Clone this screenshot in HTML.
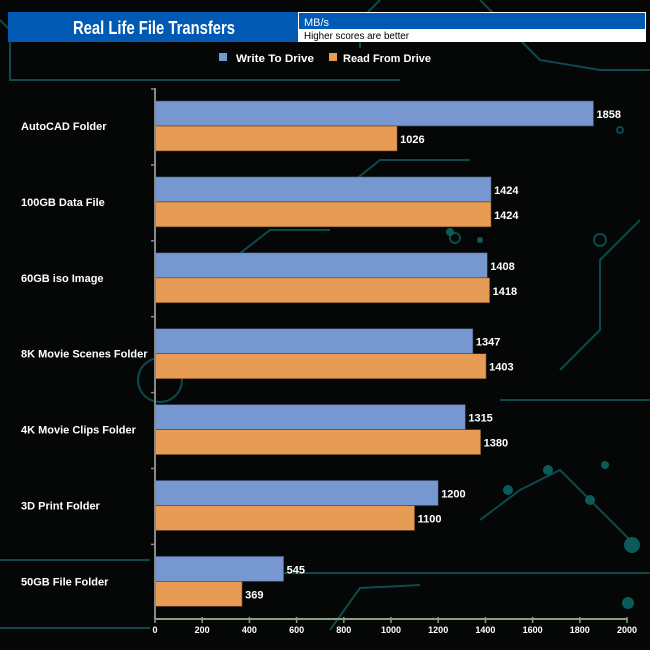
<!DOCTYPE html>
<html><head><meta charset="utf-8">
<style>
html,body{margin:0;padding:0;background:#050707;}
svg{display:block;font-family:"Liberation Sans",Arial,sans-serif;}
</style></head>
<body>
<svg id="chart" width="650" height="650" viewBox="0 0 650 650">
  <rect x="0" y="0" width="650" height="650" fill="#050707"/>
  <g stroke="#0d5253" stroke-width="2" fill="none" opacity="0.9">
    <path d="M0 20 L10 30 L10 80 L400 80"/>
    <path d="M380 0 L360 20 L360 48"/>
    <path d="M480 0 L520 40 L540 60 L600 70 L650 70"/>
    <path d="M640 220 L600 260 L600 330 L560 370"/>
    <path d="M330 200 L380 160 L470 160"/>
    <path d="M155 573 L650 573"/>
    <path d="M330 630 L360 588 L420 585"/>
    <path d="M480 520 L520 490 L560 470 L630 540"/>
    <path d="M500 400 L650 400"/>
    <path d="M180 300 L270 230 L330 230"/>
    <path d="M0 560 L150 560"/>
    <path d="M0 628 L150 628"/>
    <circle cx="600" cy="240" r="6"/>
    <circle cx="455" cy="238" r="5"/>
    <circle cx="160" cy="380" r="22"/>
    <circle cx="620" cy="130" r="3"/>
  </g>
  <g fill="#0d5a5a">
    <circle cx="632" cy="545" r="8"/><circle cx="628" cy="603" r="6"/>
    <circle cx="508" cy="490" r="5"/><circle cx="548" cy="470" r="5"/>
    <circle cx="590" cy="500" r="5"/><circle cx="605" cy="465" r="4"/>
    <circle cx="450" cy="232" r="4"/><circle cx="480" cy="240" r="3"/>
  </g>

  <rect x="8" y="12" width="290" height="30" fill="#0059b3"/>
  <text x="73" y="34" textLength="162" lengthAdjust="spacingAndGlyphs" fill="#fff" font-size="18" font-weight="bold">Real Life File Transfers</text>
  <rect x="298" y="12" width="348" height="30" fill="#fff"/>
  <rect x="299" y="13" width="346" height="16" fill="#0059b3"/>
  <text x="304" y="26" fill="#fff" font-size="11">MB/s</text>
  <text x="304" y="39" textLength="105" lengthAdjust="spacingAndGlyphs" fill="#000" font-size="10">Higher scores are better</text>

  <rect x="219" y="53" width="8" height="8" fill="#7797d0"/>
  <text x="236" y="62" textLength="78" lengthAdjust="spacingAndGlyphs" fill="#fff" font-size="11" font-weight="bold">Write To  Drive</text>
  <rect x="329" y="53" width="8" height="8" fill="#e69c55"/>
  <text x="343" y="62" textLength="88" lengthAdjust="spacingAndGlyphs" fill="#fff" font-size="11" font-weight="bold">Read From  Drive</text>

  <g id="plot"></g>
</svg>
<script>
const categories = ["AutoCAD Folder","100GB Data File","60GB iso Image","8K Movie Scenes Folder","4K Movie Clips Folder","3D Print Folder","50GB File Folder"];
const writeValues = [1858,1424,1408,1347,1315,1200,545];
const readValues = [1026,1424,1418,1403,1380,1100,369];
const xTicks = [0,200,400,600,800,1000,1200,1400,1600,1800,2000];

const NS = "http://www.w3.org/2000/svg";
const plot = document.getElementById("plot");
const X0 = 155, X1 = 627, XMAX = 2000, AXIS_Y = 619, TOP = 88;
const GROUP0 = 101, GROUP_STEP = 75.9, BAR_H = 25;
function xScale(v){ return X0 + (v / XMAX) * (X1 - X0); }
function yGroup(i){ return GROUP0 + i * GROUP_STEP; }
function mk(tag, attrs){ const e = document.createElementNS(NS, tag); for (const k in attrs) e.setAttribute(k, attrs[k]); plot.appendChild(e); return e; }

categories.forEach((c, i) => {
  const y = yGroup(i);
  const w = mk("rect", {x: X0, y: y, width: xScale(writeValues[i]) - X0, height: BAR_H, fill: "#7797d0", stroke: "#3a4a6a", "stroke-width": 0.6});
  
  
  const r = mk("rect", {x: X0, y: y + BAR_H, width: xScale(readValues[i]) - X0, height: BAR_H, fill: "#e69c55", stroke: "#5a3a1a", "stroke-width": 0.6});
  
  
  const wl = mk("text", {x: xScale(writeValues[i]) + 3, y: y + 17, fill: "#fff", "font-size": 11, "font-weight": "bold"});
  wl.textContent = writeValues[i];
  
  
  const rl = mk("text", {x: xScale(readValues[i]) + 3, y: y + BAR_H + 17, fill: "#fff", "font-size": 11, "font-weight": "bold"});
  rl.textContent = readValues[i];
  
  
  const cl = mk("text", {x: 21, y: y + BAR_H + 4, fill: "#fff", "font-size": 11, "font-weight": "bold"});
  cl.textContent = c;
  
  
  const tk = mk("line", {x1: X0 - 4, x2: X0, y1: y - 12, y2: y - 12, stroke: "#888", "stroke-width": 1.5});
  
  
});

const ya = mk("line", {x1: X0, x2: X0, y1: TOP, y2: AXIS_Y, stroke: "#888", "stroke-width": 2});


const xa = mk("line", {x1: X0, x2: X1, y1: AXIS_Y, y2: AXIS_Y, stroke: "#8aa080", "stroke-width": 2});


xTicks.forEach(t => {
  const l = mk("line", {x1: xScale(t), x2: xScale(t), y1: AXIS_Y - 2, y2: AXIS_Y + 4, stroke: "#8aa080", "stroke-width": 1.5});
  
  
  const tx = mk("text", {x: xScale(t), y: AXIS_Y + 14, fill: "#fff", "font-size": 9, "font-weight": "bold", "text-anchor": "middle"});
  tx.textContent = t;
  
  
});
</script>
</body></html>
